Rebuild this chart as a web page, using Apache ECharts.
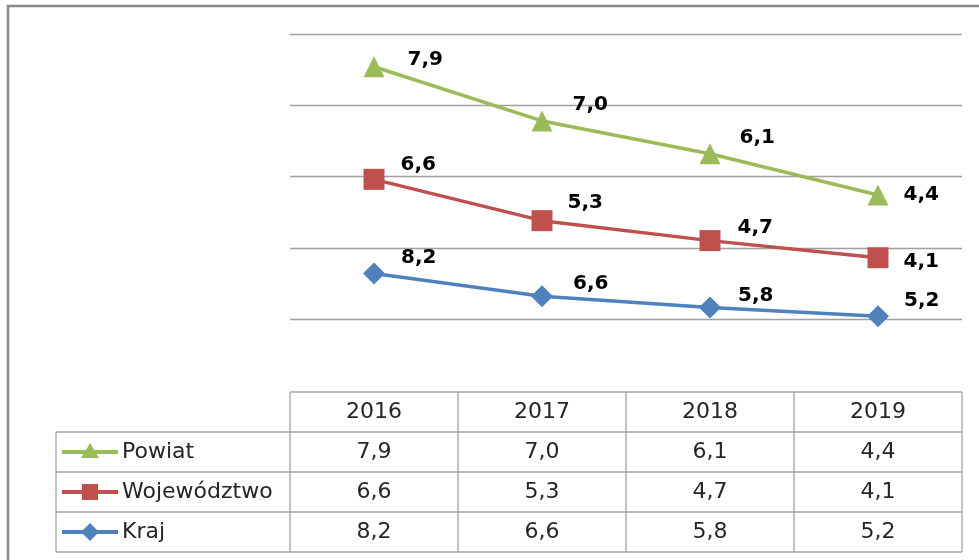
<!DOCTYPE html>
<html>
<head>
<meta charset="utf-8">
<script src="https://cdn.jsdelivr.net/npm/echarts@6/dist/echarts.min.js"></script>
<style>html,body{margin:0;padding:0;background:#fff;}#c{width:979px;height:560px;}</style>
</head>
<body>
<div id="c"></div>
<script>
var years = ['2016', '2017', '2018', '2019'];
var seriesNames = ['Powiat', 'Województwo', 'Kraj'];
var powiat = [7.9, 7.0, 6.1, 4.4];
var wojewodztwo = [6.6, 5.3, 4.7, 4.1];
var kraj = [8.2, 6.6, 5.8, 5.2];
var yMin = 5, yMax = 25, yStep = 5;

var colors = {Powiat: '#9BBB59', 'Województwo': '#C0504D', Kraj: '#4F81BD'};
var symbols = {Powiat: 'triangle', 'Województwo': 'rect', Kraj: 'diamond'};
var labelDx = {Powiat: [18, 15, 14, 10], 'Województwo': [11, 10, 12, 10], Kraj: [11, 15, 12, 10]};
var labelDy = {Powiat: [-7, -16, -16, 0], 'Województwo': [-15, -18, -13, 4], Kraj: [-16, -12, -12, -15]};
var valuesByName = {Powiat: powiat, 'Województwo': wojewodztwo, Kraj: kraj};

function fmt(v) { return v.toFixed(1).replace('.', ','); }

function mkSeries(name) {
  return {
    name: name, type: 'line', stack: 'total',
    symbol: symbols[name], symbolSize: name === 'Kraj' ? 22 : 21,
    lineStyle: {color: colors[name], width: 3.5},
    itemStyle: {color: colors[name]},
    z: name === 'Kraj' ? 3 : (name === 'Powiat' ? 5 : 4),
    data: valuesByName[name].map(function (v, i) {
      return {value: v, label: {offset: [labelDx[name][i], labelDy[name][i]]}};
    }),
    label: {
      show: true, position: 'right',
      fontFamily: 'DejaVu Sans', fontWeight: 'bold', fontSize: 20, color: '#000',
      formatter: function (p) { return fmt(p.value); }
    }
  };
}

var chart = echarts.init(document.getElementById('c'), null, {renderer: 'canvas'});
var option = {
  animation: false,
  backgroundColor: '#fff',
  grid: {left: 290, right: 17, top: 34, bottom: 241},
  xAxis: {
    type: 'category', data: years, boundaryGap: true,
    axisLine: {show: false}, axisTick: {show: false}, axisLabel: {show: false}
  },
  yAxis: {
    type: 'value', min: yMin, max: yMax, interval: yStep,
    axisLine: {show: false}, axisTick: {show: false}, axisLabel: {show: false},
    splitLine: {lineStyle: {color: '#A0A0A0', width: 1.3}}
  },
  series: [mkSeries('Kraj'), mkSeries('Województwo'), mkSeries('Powiat')]
};
chart.setOption(option);

// Data table built from the arrays, aligned to the category axis
var g = [];
var tableColor = '#A6A6A6';
var txtColor = '#262626';
var font = 'DejaVu Sans';
var fs = 22;
var headTop = 392, rowH = 40;
var tableLeft = 56;
var band = chart.convertToPixel({xAxisIndex: 0}, years[1]) - chart.convertToPixel({xAxisIndex: 0}, years[0]);
var firstX = chart.convertToPixel({xAxisIndex: 0}, years[0]) - band / 2;
var lastX = firstX + band * years.length;
var nRows = seriesNames.length;
var bottom = headTop + rowH * (nRows + 1);

// outer chart frame
g.push({type: 'rect', shape: {x: 8, y: 6, width: 1000, height: 600}, style: {fill: 'none', stroke: '#888', lineWidth: 2.5}, z: 1});

// horizontal lines
g.push({type: 'line', shape: {x1: firstX, y1: headTop, x2: lastX, y2: headTop}, style: {stroke: tableColor, lineWidth: 1.3}});
for (var r = 1; r <= nRows + 1; r++) {
  var y = headTop + rowH * r;
  g.push({type: 'line', shape: {x1: tableLeft, y1: y, x2: lastX, y2: y}, style: {stroke: tableColor, lineWidth: 1.3}});
}
// vertical lines
g.push({type: 'line', shape: {x1: tableLeft, y1: headTop + rowH, x2: tableLeft, y2: bottom}, style: {stroke: tableColor, lineWidth: 1.3}});
for (var c = 0; c <= years.length; c++) {
  var x = firstX + band * c;
  g.push({type: 'line', shape: {x1: x, y1: headTop, x2: x, y2: bottom}, style: {stroke: tableColor, lineWidth: 1.3}});
}
// header
years.forEach(function (yr, i) {
  g.push({type: 'text', x: chart.convertToPixel({xAxisIndex: 0}, yr), y: headTop + rowH / 2,
    style: {text: yr, fill: txtColor, font: fs + 'px "' + font + '"', textAlign: 'center', textVerticalAlign: 'middle'}});
});
// rows
seriesNames.forEach(function (name, r) {
  var cy = headTop + rowH * (r + 1) + rowH / 2;
  var col = colors[name];
  g.push({type: 'line', shape: {x1: 62, y1: cy, x2: 118, y2: cy}, style: {stroke: col, lineWidth: 4}});
  var sym = symbols[name];
  if (sym === 'triangle') {
    g.push({type: 'polygon', shape: {points: [[90, cy - 9], [99, cy + 6], [81, cy + 6]]}, style: {fill: col}});
  } else if (sym === 'rect') {
    g.push({type: 'rect', shape: {x: 82, y: cy - 8, width: 16, height: 16}, style: {fill: col}});
  } else {
    g.push({type: 'polygon', shape: {points: [[90, cy - 9], [99, cy], [90, cy + 9], [81, cy]]}, style: {fill: col}});
  }
  g.push({type: 'text', x: 122, y: cy,
    style: {text: name, fill: txtColor, font: fs + 'px "' + font + '"', textAlign: 'left', textVerticalAlign: 'middle'}});
  valuesByName[name].forEach(function (v, i) {
    g.push({type: 'text', x: chart.convertToPixel({xAxisIndex: 0}, years[i]), y: cy,
      style: {text: fmt(v), fill: txtColor, font: fs + 'px "' + font + '"', textAlign: 'center', textVerticalAlign: 'middle'}});
  });
});
chart.setOption({graphic: {elements: g}});
</script>
</body>
</html>
